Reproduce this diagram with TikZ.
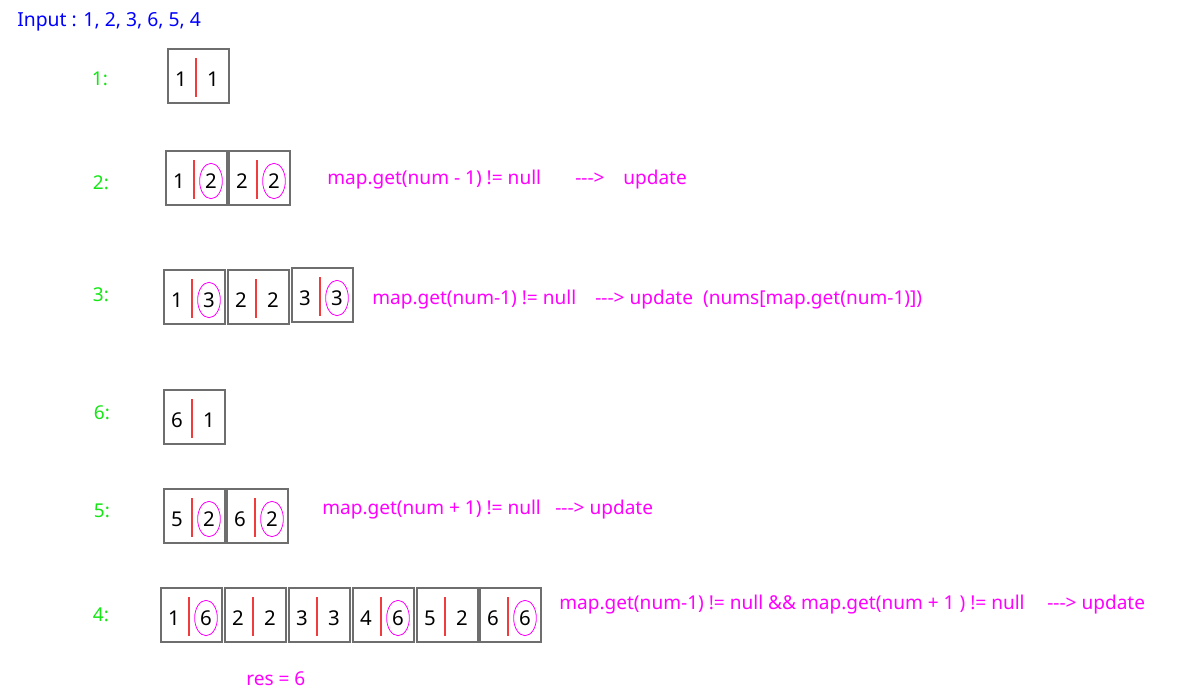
\documentclass[tikz,border=0pt]{standalone}
\usepackage{fontspec}
\setmainfont{Noto Sans}
\usetikzlibrary{shapes.geometric}
\definecolor{stepgreen}{RGB}{20,230,20}
\definecolor{barred}{RGB}{240,60,60}
\definecolor{boxgray}{RGB}{110,110,110}
\definecolor{notepink}{RGB}{255,0,255}
\definecolor{inputblue}{RGB}{0,0,255}
% one slot: name, left x, top y, key, value, style of the value
\newcommand{\slot}[6]{%
\draw[slotbox](#2,#3) rectangle ++(61,54);
\draw[bar](#2+28,#3+9)--++(0,39);
\node[digit](#1k) at (#2+13,#3+30){#4};
\node[#6](#1v) at (#2+45,#3+30){#5};
}
\begin{document}
\begin{tikzpicture}[x=0.75pt,y=-0.75pt,
slotbox/.style={draw=boxgray,line width=1.4pt},
bar/.style={draw=barred,line width=1.5pt},
digit/.style={inner sep=0pt,font=\fontsize{15.3}{18}\selectfont},
ring/.style={digit,ellipse,draw=notepink,line width=0.6pt,minimum width=17pt,minimum height=26.5pt},
steplabel/.style={anchor=base,text=stepgreen,font=\fontsize{14.3}{17}\selectfont},
note/.style={anchor=base west,inner sep=0pt,text=notepink,font=\fontsize{14.3}{17}\selectfont}]
\useasboundingbox (0,0) rectangle (1177,697);
\node[anchor=base west,inner sep=0pt,text=inputblue,font=\fontsize{14.5}{17}\selectfont](input) at (17,26){Input : 1, 2, 3, 6, 5, 4};
% step labels
\node[steplabel](s1) at (100,85){1:};
\node[steplabel](s2) at (101,189){2:};
\node[steplabel](s3) at (101,301){3:};
\node[steplabel](s6) at (102,419){6:};
\node[steplabel](s5) at (102,517){5:};
\node[steplabel](s4) at (101,621){4:};
% 1
\slot{a}{168}{49}{1}{1}{digit}
% 2
\slot{ba}{166}{151}{1}{2}{ring}
\slot{bb}{229}{151}{2}{2}{ring}
\node[note](n2) at (327,184){map.get(num - 1) != null};
\node[note](n2a) at (575,184){-{}-{}->};
\node[note](n2b) at (623,184){update};
% 3
\slot{ca}{164}{270}{1}{3}{ring}
\slot{cb}{228}{270}{2}{2}{digit}
\slot{cc}{292}{268}{3}{3}{ring}
\node[note](n3) at (372,304){map.get(num-1) != null};
\node[note](n3a) at (595,304){-{}-{}-> update\ \ (nums[map.get(num-1)])};
% 6
\slot{d}{164}{390}{6}{1}{digit}
% 5
\slot{ea}{164}{489}{5}{2}{ring}
\slot{eb}{227}{489}{6}{2}{ring}
\node[note](n5) at (322,514){map.get(num + 1) != null};
\node[note](n5a) at (555,514){-{}-{}-> update};
% 4
\slot{fa}{161}{588}{1}{6}{ring}
\slot{fb}{225}{588}{2}{2}{digit}
\slot{fc}{289}{588}{3}{3}{digit}
\slot{fd}{353}{588}{4}{6}{ring}
\slot{fe}{417}{588}{5}{2}{digit}
\slot{ff}{480}{588}{6}{6}{ring}
\node[note](n4) at (559,609){map.get(num-1) != null \&\& map.get(num + 1 ) != null};
\node[note](n4a) at (1047,609){-{}-{}-> update};
\node[note](res) at (246,685){res = 6};
\end{tikzpicture}
\end{document}
